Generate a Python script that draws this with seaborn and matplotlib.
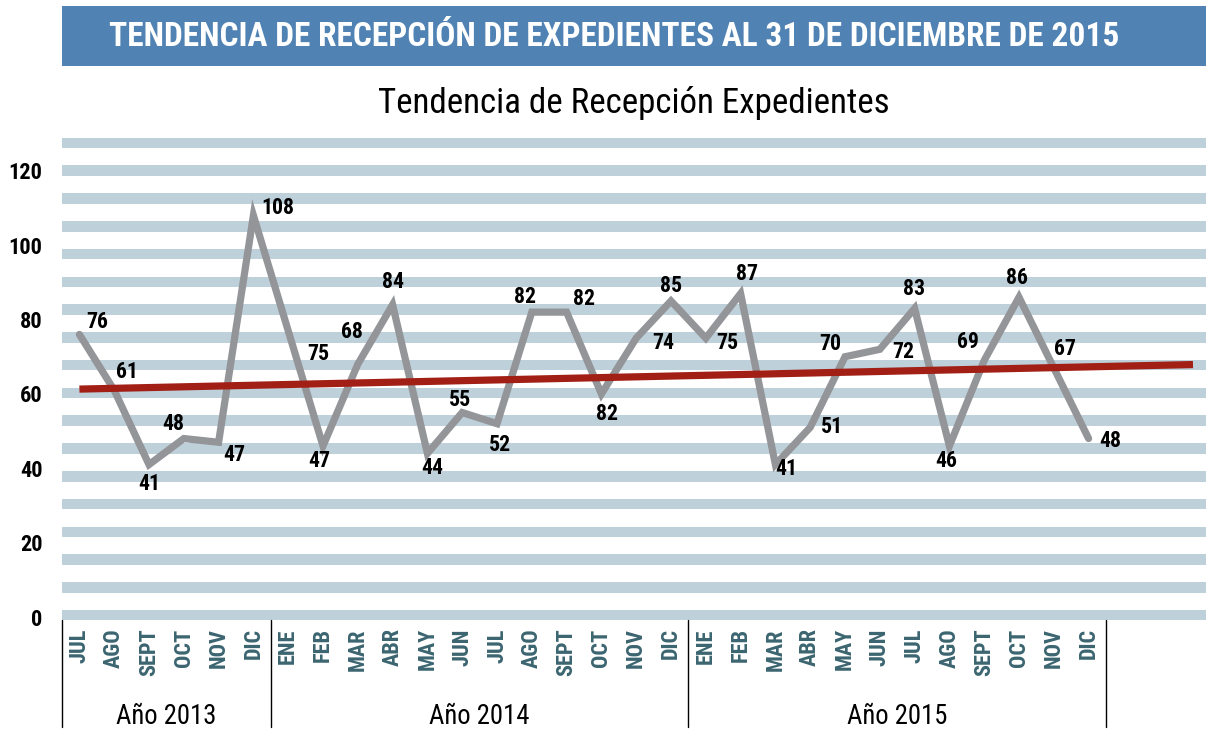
import os
import matplotlib
matplotlib.use("Agg")
import matplotlib.pyplot as plt
import matplotlib.transforms as mtransforms
from matplotlib import font_manager as fm
from matplotlib.font_manager import FontProperties
from matplotlib.lines import Line2D
from matplotlib.patches import Rectangle
import seaborn as sns
import numpy as np
import pandas as pd

# ---------------- data ----------------
months = ["JUL", "AGO", "SEPT", "OCT", "NOV", "DIC",
          "ENE", "FEB", "MAR", "ABR", "MAY", "JUN", "JUL", "AGO", "SEPT", "OCT", "NOV", "DIC",
          "ENE", "FEB", "MAR", "ABR", "MAY", "JUN", "JUL", "AGO", "SEPT", "OCT", "NOV", "DIC"]
years = ["Año 2013", "Año 2014", "Año 2015"]
year_counts = [6, 12, 12]
values = [76, 61, 41, 48, 47, 108, 77, 46, 68, 84, 44, 55, 52, 82, 82, 60, 75, 85,
          75, 87, 41, 51, 70, 72, 83, 46, 69, 86, 67, 48]
point_labels = ["76", "61", "41", "48", "47", "108", "75", "47", "68", "84", "44", "55", "52",
                "82", "82", "82", "74", "85", "75", "87", "41", "51", "70", "72", "83", "46",
                "69", "86", "67", "48"]
trend_x = [0, 32]
trend_y = [61.3, 67.9]
yticks = [0, 20, 40, 60, 80, 100, 120]

title = "TENDENCIA DE RECEPCIÓN DE EXPEDIENTES AL 31 DE DICIEMBRE DE 2015"
subtitle = "Tendencia de Recepción Expedientes"

# label offsets in pixels (dx, dy image-down)
label_offsets = [(18, -12), (13, -18), (0, 19), (-11, -15), (16, 13), (24, -7), (30, 23),
                 (-4, 15), (-6, -32), (0, -23), (5, 15), (-2, -13), (3, 21), (-7, -15),
                 (17, -13), (6, 20), (27, 5), (0, -15), (22, 5), (6, -20), (11, 4), (22, 0),
                 (-15, -13), (23, 3), (-1, -19), (-3, 15), (-16, -18), (-2, -19), (11, -19),
                 (22, 2)]

# ---------------- fonts ----------------
sns.set_theme(style="white")
plt.rcParams["font.family"] = ["Roboto", "DejaVu Sans"]

PREF = ["liberation sans narrow", "roboto condensed", "dejavu sans", "open sans",
        "noto sans", "arial narrow"]


def _num(v, table, default):
    if isinstance(v, (int, float)):
        return int(v)
    return int(table.get(str(v), default))


def pick_font(bold):
    target = 700 if bold else 400
    best, best_key = None, None
    for f in fm.fontManager.ttflist:
        if f.style != "normal":
            continue
        nm = f.name.lower()
        fn = os.path.basename(f.fname).lower()
        w = _num(f.weight, fm.weight_dict, 400)
        if bold and w < 600:
            continue
        if not bold and w >= 600:
            continue
        st = _num(f.stretch, fm.stretch_dict, 500)
        cond = ("narrow" in nm or "condensed" in nm or "narrow" in fn
                or "condensed" in fn or st < 500)
        if not cond or "extra" in fn or "ultra" in fn:
            continue
        rank = len(PREF)
        for i, p in enumerate(PREF):
            if nm.startswith(p):
                rank = i
                break
        key = (rank, abs(w - target), abs(st - 300))
        if best_key is None or key < best_key:
            best, best_key = f, key
    if best is not None:
        return FontProperties(fname=best.fname)
    return FontProperties(family=["Roboto", "DejaVu Sans"],
                          weight="bold" if bold else "normal")


FP_REG = pick_font(False)
FP_BOLD = pick_font(True)


def fp(base, size):
    p = base.copy()
    p.set_size(size)
    return p


W, H = 1206, 733
fig = plt.figure(figsize=(W / 100, H / 100), dpi=100)
fig.patch.set_facecolor("white")
renderer = fig.canvas.get_renderer()


def fit_size(text, base, target_px, start=20.0):
    w, h, d = renderer.get_text_width_height_descent(text, fp(base, start), ismath=False)
    return start * target_px / w


# text sizes fitted to the reference's text widths
s_title = fit_size(title, FP_BOLD, 1012)
s_sub = fit_size(subtitle, FP_REG, 512)
s_ytick = min(fit_size("120", FP_BOLD, 34), 18)
s_label = min(fit_size("108", FP_BOLD, 33), 17)
s_xtick = min(fit_size("SEPT", FP_BOLD, 55), 16)
s_year = min(fit_size("Año 2013", FP_REG, 100), 23)

# banner
fig.patches.append(Rectangle((62 / W, 1 - 66 / H), (W - 62) / W, 60 / H,
                             transform=fig.transFigure, facecolor="#5083b3",
                             edgecolor="none", zorder=0))
fig.text(614 / W, 1 - 37 / H, title, color="white", fontproperties=fp(FP_BOLD, s_title),
         ha="center", va="center")
fig.text(634 / W, 1 - 103 / H, subtitle, color="black", fontproperties=fp(FP_REG, s_sub),
         ha="center", va="center")

# axes
ax_left, ax_right, ax_top, ax_bottom = 62, 1206, 137, 620
ax = fig.add_axes([ax_left / W, 1 - ax_bottom / H, (ax_right - ax_left) / W,
                   (ax_bottom - ax_top) / H])
ax.set_facecolor("white")
slot = 34.8
ax.set_xlim(-0.5, -0.5 + (ax_right - ax_left) / slot)
ax.set_ylim(-0.8, 129.1)

# background stripes
stripe_step = 7.47
for k in range(18):
    c = 0.5 + stripe_step * k
    ax.axhspan(c - 1.42, c + 1.42, color="#bed0da", lw=0, zorder=0)

df = pd.DataFrame({"x": np.arange(len(values)), "v": values})
sns.lineplot(data=df, x="x", y="v", ax=ax, color="#939598", lw=5.2,
             solid_joinstyle="miter", zorder=3)
tdf = pd.DataFrame({"x": trend_x, "v": trend_y})
sns.lineplot(data=tdf, x="x", y="v", ax=ax, color="#a21f15", lw=5.2,
             solid_capstyle="butt", zorder=4)

for i, (v, lab) in enumerate(zip(values, point_labels)):
    dx, dy = label_offsets[i]
    ax.annotate(lab, (i, v), xytext=(dx, -dy), textcoords="offset pixels",
                ha="center", va="center", fontproperties=fp(FP_BOLD, s_label),
                color="black", zorder=5)

ax.set_xlabel("")
ax.set_ylabel("")
ax.set_yticks(yticks)
ax.set_yticklabels([str(t) for t in yticks], color="black")
for t in ax.get_yticklabels():
    t.set_fontproperties(fp(FP_BOLD, s_ytick))
ax.set_xticks(np.arange(len(months)))
ax.set_xticklabels(months, rotation=90, color="#3b6570", va="top", ha="center")
for t in ax.get_xticklabels():
    t.set_fontproperties(fp(FP_BOLD, s_xtick))
ax.tick_params(axis="y", length=0, pad=14)
ax.tick_params(axis="x", length=0, pad=6)
for s in ax.spines.values():
    s.set_visible(False)
ax.grid(False)

# year groups and separators
trans = mtransforms.blended_transform_factory(ax.transData, ax.transAxes)
sep_bottom = -(727 - ax_bottom) / (ax_bottom - ax_top)
year_y = -(716 - ax_bottom) / (ax_bottom - ax_top)
start = 0
bounds = [-0.5]
for yr, n in zip(years, year_counts):
    center = start + (n - 1) / 2
    ax.text(center, year_y, yr, transform=trans, ha="center", va="center",
            fontproperties=fp(FP_REG, s_year), color="black")
    start += n
    bounds.append(start - 0.5)
for b in bounds:
    ax.add_line(Line2D([b, b], [0, sep_bottom], transform=trans, color="black",
                       lw=1.0, clip_on=False))

fig.savefig("out.png", dpi=100, facecolor="white")
